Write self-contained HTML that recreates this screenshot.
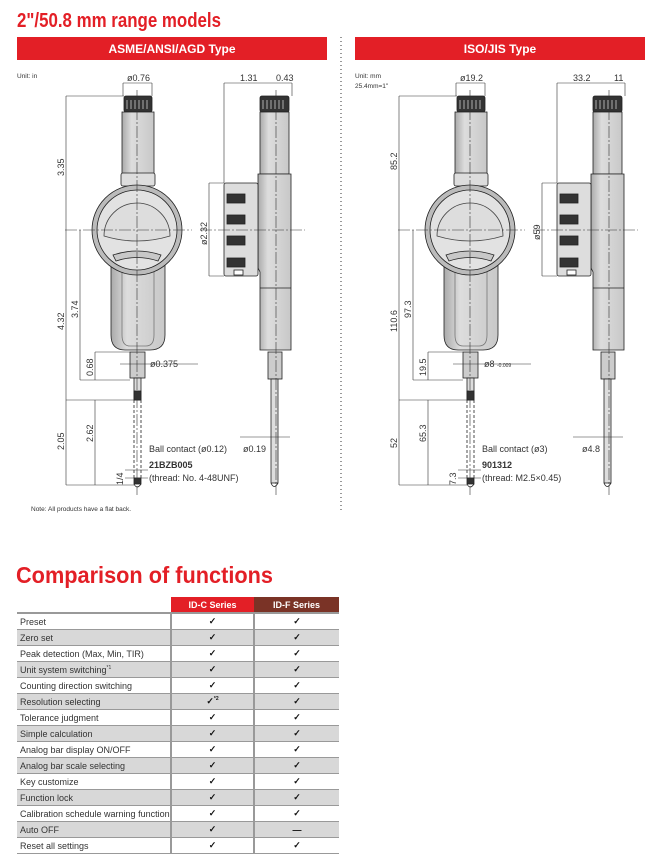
<!DOCTYPE html>
<html><head><meta charset="utf-8">
<style>
body{margin:0;width:645px;height:856px;background:#fff;overflow:hidden;font-family:"Liberation Sans",sans-serif;}
svg text{font-family:"Liberation Sans",sans-serif;}
table{position:absolute;left:17px;top:597px;border-collapse:collapse;font-size:9px;color:#333;}
td{height:15px;padding:0 0 0 3px;border-bottom:1px solid #999;}
td.c{text-align:center;padding:0;border-left:2px solid #999;color:#111;font-weight:bold;}
tr:nth-child(odd) td{background:#d8d8d8;}
tr.h td{background:#fff;border-bottom:2px solid #999;}
</style></head><body>
<svg width="645" height="590" style="position:absolute;left:0;top:0">
<defs>
<linearGradient id="gs" x1="0" x2="1"><stop offset="0" stop-color="#aaa"/><stop offset=".3" stop-color="#ddd"/><stop offset="1" stop-color="#c8c8c8"/></linearGradient>
<g id="gauge" stroke="#222" stroke-width="0.8">
 <rect x="124" y="96" width="28" height="16" rx="2" fill="#333"/>
 <path d="M127 100v9M131 100v9M135 100v9M139 100v9M143 100v9M147 100v9" stroke="#ccc" stroke-width="0.8"/>
 <rect x="122" y="112" width="32" height="62" fill="url(#gs)"/>
 <rect x="121" y="173" width="34" height="13" rx="2" fill="#ddd"/>
 <path d="M111 262 L111 335 Q111 350 125 350 L150 350 Q165 350 165 335 L165 262 Z" fill="url(#gs)"/>
 <path d="M122 270 L122 335 Q122 346 130 346 L146 346 Q154 346 154 335 L154 270" fill="none" stroke="#777"/>
 <circle cx="137" cy="230" r="45" fill="#bbb"/>
 <circle cx="137" cy="230" r="40" fill="#e2e2e2"/>
 <path d="M104 236 A33 33 0 1 1 170 236 Q137 246 104 236 Z" fill="#ddd" stroke="#444"/>
 <path d="M113 255 Q137 247 161 255 L158 261 Q137 254 116 261 Z" fill="#c8c8c8"/>
 <rect x="130" y="352" width="15" height="26" fill="#ccc"/>
 <rect x="134" y="378" width="7" height="22" fill="#ddd"/>
 <rect x="134" y="391" width="7" height="9" fill="#333"/>
 <path d="M134 400 V478 M141 400 V478" stroke-dasharray="3 2"/>
 <rect x="134" y="478" width="7" height="6" fill="#333"/>
 <path d="M134 484 Q137 490 141 484" fill="none"/>
 <rect x="260" y="96" width="29" height="16" rx="2" fill="#333"/>
 <path d="M263 100v9M267 100v9M271 100v9M275 100v9M279 100v9M283 100v9" stroke="#ccc" stroke-width="0.8"/>
 <rect x="260" y="112" width="29" height="62" fill="url(#gs)"/>
 <path d="M258 174 L291 174 L291 350 L260 350 L260 272 L258 268 Z" fill="url(#gs)"/>
 <path d="M260 288 H291" />
 <rect x="224" y="183" width="34" height="93" rx="2" fill="#ddd"/>
 <rect x="227" y="194" width="18" height="9" fill="#333"/>
 <rect x="227" y="215" width="18" height="9" fill="#333"/>
 <rect x="227" y="236" width="18" height="9" fill="#333"/>
 <rect x="227" y="258" width="18" height="9" fill="#333"/>
 <rect x="234" y="270" width="9" height="5" fill="#fff"/>
 <rect x="268" y="352" width="14" height="27" fill="#ccc"/>
 <rect x="271" y="379" width="7" height="104" fill="#ddd"/>
 <path d="M271 483 Q274 490 278 483" fill="none"/>
</g>
<g id="dims" stroke="#333" stroke-width="0.6" fill="none">
 <path d="M65 230H192 M137 90V495 M200 230H305 M276 90V495" stroke-dasharray="12 2 2 2"/>
 <path d="M66 96H124 M66 96V485 M66 400H134 M66 485H134"/>
 <path d="M80 230V380 M80 380H130 M95 352V380 M95 352H130 M95 400V485"/>
 <path d="M123 83H152 M123 83V96 M152 83V96"/>
 <path d="M224 83H292 M224 83V183 M292 83V96 M209 183H224 M209 276H224 M209 183V276"/>
 <path d="M120 364H198 M125 470H148 M125 478H148 M240 437H290"/>
</g>
</defs>
<text x="17" y="27" fill="#e31f26" font-size="20" font-weight="bold" textLength="204" lengthAdjust="spacingAndGlyphs">2"/50.8 mm range models</text>
<rect x="17" y="37" width="310" height="23" fill="#e31f26"/>
<rect x="355" y="37" width="290" height="23" fill="#e31f26"/>
<text x="172" y="53" fill="#fff" font-size="12" font-weight="bold" text-anchor="middle">ASME/ANSI/AGD Type</text>
<text x="500" y="53" fill="#fff" font-size="12" font-weight="bold" text-anchor="middle">ISO/JIS Type</text>
<path d="M341 37V510" stroke="#999" stroke-dasharray="1 3" stroke-width="2"/>
<use href="#gauge"/><use href="#dims"/>
<use href="#gauge" x="333"/><use href="#dims" x="333"/>
<g font-size="9" fill="#333">
<text x="17" y="78" font-size="6.5">Unit: in</text>
<text x="127" y="81">ø0.76</text>
<text x="240" y="81">1.31</text><text x="276" y="81">0.43</text>
<text x="150" y="367">ø0.375</text>
<text x="243" y="452">ø0.19</text>
<text x="149" y="452">Ball contact (ø0.12)</text>
<text x="149" y="468" font-weight="bold">21BZB005</text>
<text x="149" y="481">(thread: No. 4-48UNF)</text>
<text transform="translate(64,176) rotate(-90)">3.35</text>
<text transform="translate(64,330) rotate(-90)">4.32</text>
<text transform="translate(78,318) rotate(-90)">3.74</text>
<text transform="translate(93,376) rotate(-90)">0.68</text>
<text transform="translate(64,450) rotate(-90)">2.05</text>
<text transform="translate(93,442) rotate(-90)">2.62</text>
<text transform="translate(123,485) rotate(-90)">1/4</text>
<text transform="translate(207,245) rotate(-90)">ø2.32</text>
<text x="355" y="78" font-size="6.5">Unit: mm</text>
<text x="355" y="88" font-size="6.5">25.4mm=1"</text>
<text x="460" y="81">ø19.2</text>
<text x="573" y="81">33.2</text><text x="614" y="81">11</text>
<text x="484" y="367">ø8 <tspan font-size="5">-0.009</tspan></text>
<text x="582" y="452">ø4.8</text>
<text x="482" y="452">Ball contact (ø3)</text>
<text x="482" y="468" font-weight="bold">901312</text>
<text x="482" y="481">(thread: M2.5×0.45)</text>
<text transform="translate(397,170) rotate(-90)">85.2</text>
<text transform="translate(397,332) rotate(-90)">110.6</text>
<text transform="translate(411,318) rotate(-90)">97.3</text>
<text transform="translate(426,376) rotate(-90)">19.5</text>
<text transform="translate(397,448) rotate(-90)">52</text>
<text transform="translate(426,442) rotate(-90)">65.3</text>
<text transform="translate(456,485) rotate(-90)">7.3</text>
<text transform="translate(540,240) rotate(-90)">ø59</text>
<text x="31" y="511" font-size="6.5">Note: All products have a flat back.</text>
</g>
<text x="16" y="583" fill="#e31f26" font-size="23" font-weight="bold" textLength="257" lengthAdjust="spacingAndGlyphs">Comparison of functions</text>
</svg>
<table>
<tr class="h"><td style="width:151px"></td><td class="c" style="width:83px;background:#e31f26;color:#fff;font-weight:bold;border-left:none">ID-C Series</td><td class="c" style="width:85px;background:#7a3326;color:#fff;font-weight:bold;border-left:none">ID-F Series</td></tr>
<tr><td>Preset</td><td class="c">✓</td><td class="c">✓</td></tr>
<tr><td>Zero set</td><td class="c">✓</td><td class="c">✓</td></tr>
<tr><td>Peak detection (Max, Min, TIR)</td><td class="c">✓</td><td class="c">✓</td></tr>
<tr><td>Unit system switching<sup style="font-size:5px">*1</sup></td><td class="c">✓</td><td class="c">✓</td></tr>
<tr><td>Counting direction switching</td><td class="c">✓</td><td class="c">✓</td></tr>
<tr><td>Resolution selecting</td><td class="c">✓<sup style="font-size:5px">*2</sup></td><td class="c">✓</td></tr>
<tr><td>Tolerance judgment</td><td class="c">✓</td><td class="c">✓</td></tr>
<tr><td>Simple calculation</td><td class="c">✓</td><td class="c">✓</td></tr>
<tr><td>Analog bar display ON/OFF</td><td class="c">✓</td><td class="c">✓</td></tr>
<tr><td>Analog bar scale selecting</td><td class="c">✓</td><td class="c">✓</td></tr>
<tr><td>Key customize</td><td class="c">✓</td><td class="c">✓</td></tr>
<tr><td>Function lock</td><td class="c">✓</td><td class="c">✓</td></tr>
<tr><td>Calibration schedule warning function</td><td class="c">✓</td><td class="c">✓</td></tr>
<tr><td>Auto OFF</td><td class="c">✓</td><td class="c">—</td></tr>
<tr><td>Reset all settings</td><td class="c">✓</td><td class="c">✓</td></tr>
</table>
</body></html>
